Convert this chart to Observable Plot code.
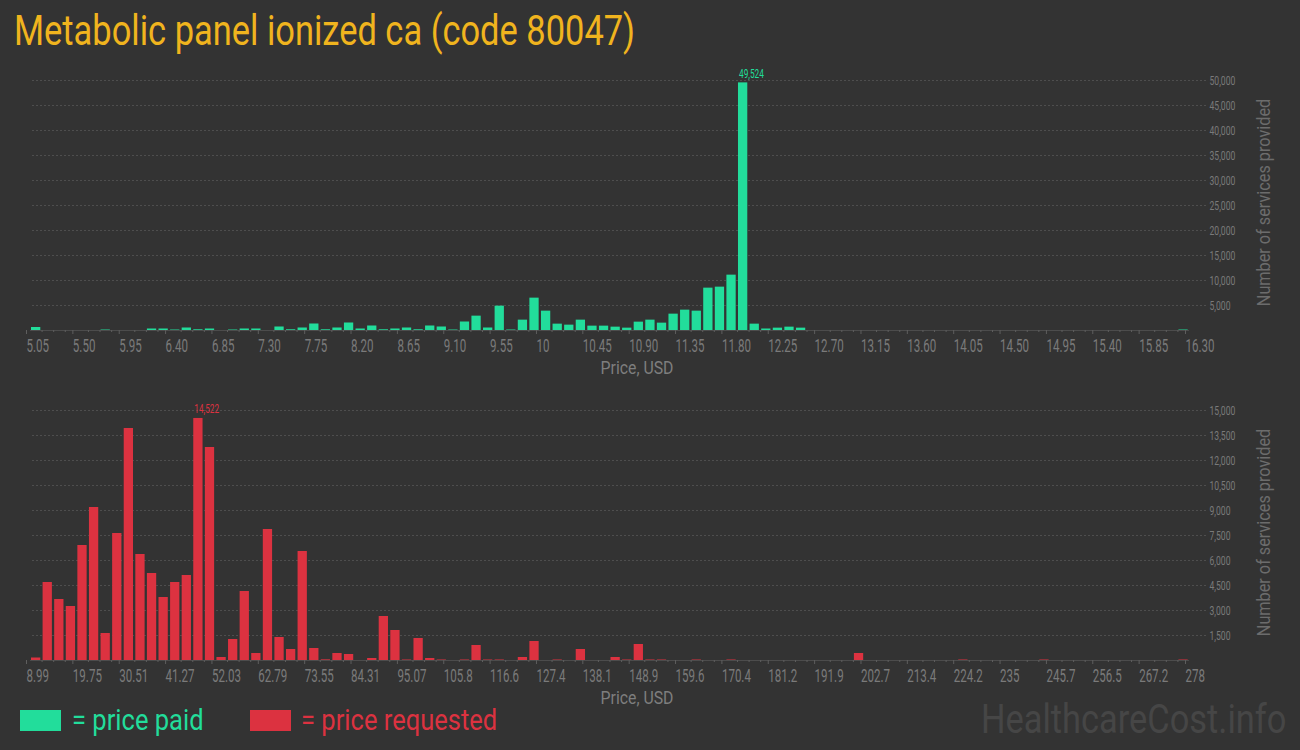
<!DOCTYPE html>
<html><head><meta charset="utf-8">
<script src="https://cdn.jsdelivr.net/npm/d3@7"></script>
<script src="https://cdn.jsdelivr.net/npm/@observablehq/plot@0.6"></script>
<style>
  html,body{margin:0;padding:0;}
  body{width:1300px;height:750px;background:#333333;position:relative;overflow:hidden;font-family:Roboto,sans-serif;}
  .sq{position:absolute;white-space:nowrap;transform-origin:0 0;}
  #title{left:14px;top:7px;font-size:42px;line-height:48px;color:#f0b41e;transform:scaleX(0.82);}
  .chart{position:absolute;left:0;}
  #topChart{top:55px;} #bottomChart{top:385px;}
  .box{position:absolute;top:710px;width:41px;height:21px;}
  .legtext{top:706px;font-size:29px;line-height:29px;transform:scaleX(0.88);}
  #watermark{left:981px;top:700px;font-size:40px;line-height:40px;color:#464646;transform:scaleX(0.86);}
</style>
</head><body>
<div id="title" class="sq">Metabolic panel ionized ca (code 80047)</div>
<div id="topChart" class="chart"></div>
<div id="bottomChart" class="chart"></div>
<div class="box" style="left:20px;background:#22dd9b"></div>
<div class="sq legtext" style="left:72px;color:#22dd9b">= price paid</div>
<div class="box" style="left:250px;background:#dc3240"></div>
<div class="sq legtext" style="left:301px;color:#dc3240">= price requested</div>
<div id="watermark" class="sq">HealthcareCost.info</div>
<script>
// ---- data ----
const paidTickLabels = ["5.05","5.50","5.95","6.40","6.85","7.30","7.75","8.20","8.65","9.10","9.55","10","10.45","10.90","11.35","11.80","12.25","12.70","13.15","13.60","14.05","14.50","14.95","15.40","15.85","16.30"];
const paidCounts = [
  600,0,0,0,0,0,100,0,0,0,
  300,300,100,500,150,300,0,100,300,300,
  0,700,150,500,1300,150,500,1500,300,900,
  150,300,500,150,900,700,100,1700,2870,500,
  4870,100,2070,6470,3870,1270,1070,2070,870,870,
  670,470,1670,2070,1470,3270,4070,3870,8470,8670,
  11070,49524,1270,300,470,670,470,0,0,0,
  0,0,0,0,0,0,0,0,0,0,
  0,0,0,0,0,0,0,0,0,0,
  0,0,0,0,0,0,0,0,0,100
];
const paidYTicks = [5000,10000,15000,20000,25000,30000,35000,40000,45000,50000];

const reqTickLabels = ["8.99","19.75","30.51","41.27","52.03","62.79","73.55","84.31","95.07","105.8","116.6","127.4","138.1","148.9","159.6","170.4","181.2","191.9","202.7","213.4","224.2","235","245.7","256.5","267.2","278"];
const reqCounts = [
  150,4680,3660,3240,6900,9180,1620,7620,13920,6360,
  5220,3780,4680,5100,14522,12780,180,1260,4140,420,
  7860,1380,660,6540,720,40,420,360,0,120,
  2640,1800,30,1320,120,30,0,30,900,30,
  30,0,180,1140,0,30,0,660,0,0,
  180,30,960,30,30,0,0,30,0,0,
  30,0,0,0,0,0,0,0,0,0,
  0,420,0,0,0,0,0,0,0,0,
  30,0,0,0,0,0,0,30,0,0,
  0,0,0,0,0,0,0,0,0,30
];
const reqYTicks = [1500,3000,4500,6000,7500,9000,10500,12000,13500,15000];

const xTitle = "Price, USD";
const yTitle = "Number of services provided";

function chart(values, labels, yTicks, yMax, color) {
  const nBins = values.length;
  const data = values.map((v, i) => ({i, v}));
  const peakIdx = d3.maxIndex(values);
  const peak = [{i: peakIdx, v: values[peakIdx]}];
  const step = nBins / (labels.length - 1);
  const majors = labels.map((_, k) => k * step);
  const minors = d3.range(0, nBins + 1).filter(i => i % step !== 0);
  return Plot.plot({
    width: 1300, height: 330,
    marginTop: 25, marginBottom: 55, marginLeft: 30, marginRight: 111,
    style: {background: "transparent", color: "#858585", fontFamily: "Roboto, sans-serif"},
    x: {domain: [0, nBins]},
    y: {domain: [0, yMax]},
    marks: [
      Plot.gridY(yTicks, {stroke: "#4e4e4e", strokeOpacity: 1, strokeDasharray: "2,2", insetLeft: 2, insetRight: -17}),
      Plot.ruleY([0], {stroke: "#4c4c4c"}),
      Plot.rectY(data, {x1: "i", x2: d => d.i + 1, y: "v", fill: color, insetLeft: 1, insetRight: 1.3}),
      Plot.axisX(minors, {tickSize: 2, tickFormat: () => "", stroke: "#5e5e5e", label: null}),
      Plot.axisX(majors, {tickSize: 4, tickPadding: 5, tickFormat: d => labels[Math.round(d / step)],
        textAnchor: "start", dx: -4, fontSize: 17.5, stroke: "#5e5e5e", fill: "#7a7a7a", label: null}),
      Plot.axisY(yTicks, {anchor: "right", tickSize: 0, tickPadding: 20, tickFormat: d3.format(","),
        fontSize: 13, fill: "#7a7a7a", label: null}),
      Plot.text(peak, {x: "i", y: "v", text: d => d3.format(",")(d.v), textAnchor: "start", dx: 1.5, dy: -9, fill: color, fontSize: 12.5}),
      Plot.text([xTitle], {frameAnchor: "bottom", textAnchor: "middle", lineAnchor: "middle", dx: 27, dy: 38, fontSize: 18.5, fill: "#7e7e7e"}),
      Plot.text([yTitle], {frameAnchor: "right", textAnchor: "middle", lineAnchor: "middle", rotate: -90, dx: 74, dy: -3, fontSize: 19, fill: "#6c6c6c"})
    ]
  });
}

// condense text horizontally (the reference uses a narrow face)
function condense(svg) {
  svg.querySelectorAll("text").forEach(t => {
    const g = t.closest("g[aria-label]");
    const label = g ? g.getAttribute("aria-label") : "";
    const fs = parseFloat(getComputedStyle(t).fontSize);
    const f = (label.includes("tick label") || fs < 15) ? 0.66 : 0.855;
    const L = t.getComputedTextLength();
    if (L > 0) {
      t.setAttribute("textLength", (L * f).toFixed(2));
      t.setAttribute("lengthAdjust", "spacingAndGlyphs");
    }
  });
}

const paidSvg = chart(paidCounts, paidTickLabels, paidYTicks, 50000, "#22dd9b");
document.getElementById("topChart").appendChild(paidSvg);
condense(paidSvg);
const reqSvg = chart(reqCounts, reqTickLabels, reqYTicks, 15000, "#dc3240");
document.getElementById("bottomChart").appendChild(reqSvg);
condense(reqSvg);
</script>
</body></html>
